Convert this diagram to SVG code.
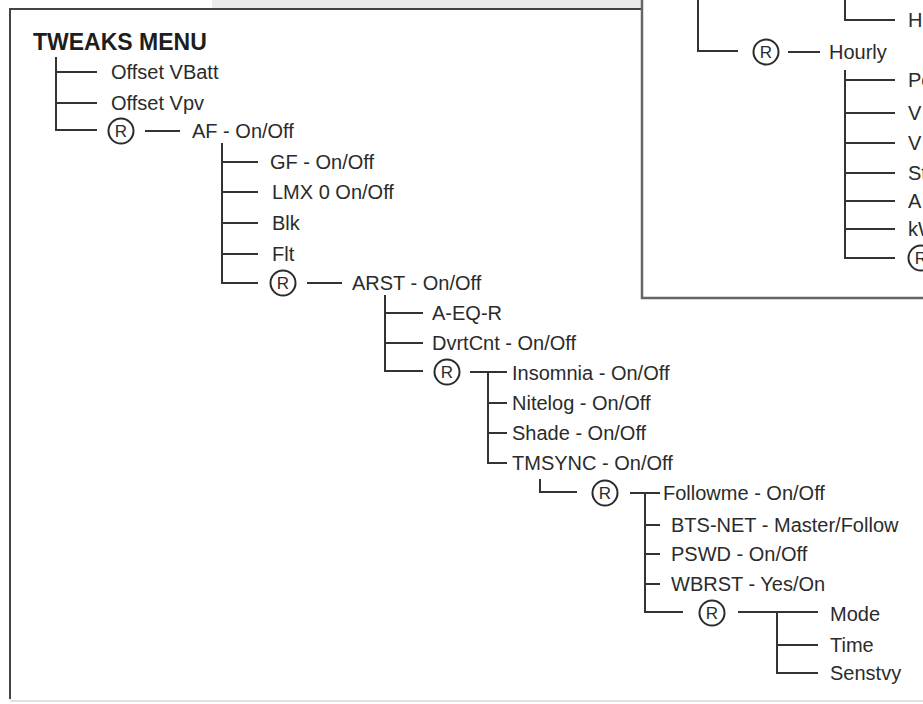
<svg xmlns="http://www.w3.org/2000/svg" width="923" height="704" viewBox="0 0 923 704">
<style>
.t{font-family:"Liberation Sans",Arial,sans-serif;font-size:20px;fill:#2b2b2b}
.h{font-family:"Liberation Sans",Arial,sans-serif;font-size:23px;font-weight:bold;fill:#1e1e1e}
.rt{font-family:"Liberation Sans",Arial,sans-serif;font-size:17px;fill:#2b2b2b;text-anchor:middle}
.rc{fill:none;stroke:#2b2b2b;stroke-width:2}
.ln{fill:none;stroke:#333;stroke-width:2}
.fr{fill:none;stroke:#444;stroke-width:2}
.pn{fill:none;stroke:#666;stroke-width:2.5}
</style>
<defs>
<g id="rmark"><circle class="rc" cx="0" cy="0" r="12.5"/><text class="rt" x="0" y="6">R</text></g>
</defs>
<rect width="923" height="704" fill="#fff"/>
<rect x="212" y="0" width="430" height="8" fill="#ececec"/>
<line x1="10" y1="701" x2="923" y2="701" stroke="#e2e2e2" stroke-width="2"/>
<g id="frames">
<path class="fr" d="M10 699 V9 H642"/>
<path class="pn" d="M642 0 V298 H923"/>
</g>
<g id="connectors">
<path class="ln" d="M56 57 V130 H97 M56 72 H97 M56 103 H97"/>
<path class="ln" d="M145 131 H180"/>
<path class="ln" d="M222 143 V283 H258 M222 162 H258 M222 192 H258 M222 223 H258 M222 254 H258"/>
<path class="ln" d="M307 283 H342"/>
<path class="ln" d="M385 295 V371 H423 M385 313 H423 M385 343 H423"/>
<path class="ln" d="M470 372 H507 M488 372 V463 H507 M488 403 H507 M488 433 H507"/>
<path class="ln" d="M540 479 V492 H577"/>
<path class="ln" d="M630 493 H660 M645 493 V612 H683 M645 525 H660 M645 554 H660 M645 584 H660"/>
<path class="ln" d="M738 612 H818 M777 612 V673 H818 M777 645 H818"/>
<path class="ln" d="M698 0 V51 H738 M788 52 H820"/>
<path class="ln" d="M845 0 V20 H895"/>
<path class="ln" d="M845 70 V258 H895 M845 80 H895 M845 113 H895 M845 143 H895 M845 173 H895 M845 201 H895 M845 229 H895"/>
</g>
<g id="title"><text class="h" x="33" y="50">TWEAKS MENU</text></g>
<g id="offset-vbatt"><text class="t" x="111" y="79">Offset VBatt</text></g>
<g id="offset-vpv"><text class="t" x="111" y="110">Offset Vpv</text></g>
<g id="r1"><use href="#rmark" x="121" y="131"/></g>
<g id="af"><text class="t" x="192" y="138">AF - On/Off</text></g>
<g id="gf"><text class="t" x="270" y="169">GF - On/Off</text></g>
<g id="lmx"><text class="t" x="272" y="199">LMX 0 On/Off</text></g>
<g id="blk"><text class="t" x="272" y="230">Blk</text></g>
<g id="flt"><text class="t" x="272" y="261">Flt</text></g>
<g id="r2"><use href="#rmark" x="283" y="283"/></g>
<g id="arst"><text class="t" x="352" y="290">ARST - On/Off</text></g>
<g id="aeqr"><text class="t" x="432" y="320">A-EQ-R</text></g>
<g id="dvrtcnt"><text class="t" x="432" y="350">DvrtCnt - On/Off</text></g>
<g id="r3"><use href="#rmark" x="447" y="372"/></g>
<g id="insomnia"><text class="t" x="512" y="380">Insomnia - On/Off</text></g>
<g id="nitelog"><text class="t" x="512" y="410">Nitelog - On/Off</text></g>
<g id="shade"><text class="t" x="512" y="440">Shade - On/Off</text></g>
<g id="tmsync"><text class="t" x="512" y="470">TMSYNC - On/Off</text></g>
<g id="r4"><use href="#rmark" x="605" y="493"/></g>
<g id="followme"><text class="t" x="663" y="500">Followme - On/Off</text></g>
<g id="btsnet"><text class="t" x="671" y="532">BTS-NET - Master/Follow</text></g>
<g id="pswd"><text class="t" x="671" y="561">PSWD - On/Off</text></g>
<g id="wbrst"><text class="t" x="671" y="591">WBRST - Yes/On</text></g>
<g id="r5"><use href="#rmark" x="712" y="613"/></g>
<g id="mode"><text class="t" x="830" y="621">Mode</text></g>
<g id="time"><text class="t" x="830" y="652">Time</text></g>
<g id="senstvy"><text class="t" x="830" y="680">Senstvy</text></g>
<g id="r6"><use href="#rmark" x="766" y="52"/></g>
<g id="hourly"><text class="t" x="829" y="59">Hourly</text></g>
<g id="h-top"><text class="t" x="908" y="27">H</text></g>
<g id="p-row"><text class="t" x="908" y="87">Pe</text></g>
<g id="v-row1"><text class="t" x="908" y="120">V</text></g>
<g id="v-row2"><text class="t" x="908" y="150">V</text></g>
<g id="st-row"><text class="t" x="908" y="180">St</text></g>
<g id="a-row"><text class="t" x="908" y="208">A</text></g>
<g id="kw-row"><text class="t" x="908" y="236">kW</text></g>
<g id="r7"><use href="#rmark" x="921" y="258"/></g>
</svg>
